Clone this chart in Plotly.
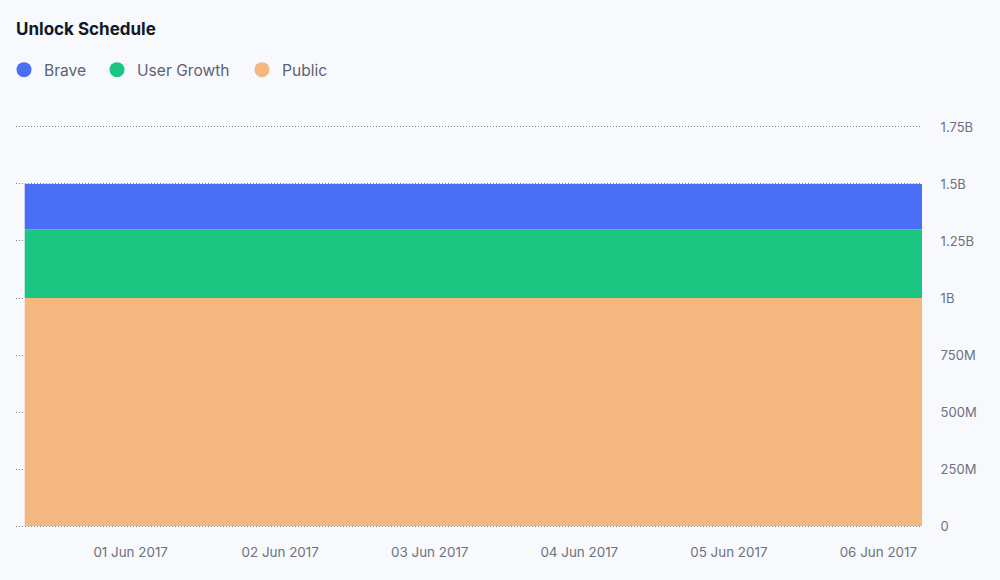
import plotly.graph_objects as go

dates = ["2017-05-31 07:00", "2017-06-01 07:00", "2017-06-02 07:00", "2017-06-03 07:00",
         "2017-06-04 07:00", "2017-06-05 07:00", "2017-06-06 07:00"]
public = [1.0e9] * 7
user_growth = [0.3e9] * 7
brave = [0.2e9] * 7

series_names = ["Public", "User Growth", "Brave"]
series_values = [public, user_growth, brave]
series_colors = ["#f4b77f", "#1ac682", "#4a6ef6"]

y_ticks = [0, 0.25e9, 0.5e9, 0.75e9, 1.0e9, 1.25e9, 1.5e9, 1.75e9]
y_labels = ["0", "250M", "500M", "750M", "1B", "1.25B", "1.5B", "1.75B"]
x_ticks = ["2017-06-01", "2017-06-02", "2017-06-03", "2017-06-04", "2017-06-05", "2017-06-06"]

fig = go.Figure()
for name, vals, col in zip(series_names, series_values, series_colors):
    fig.add_trace(go.Scatter(x=dates, y=vals, name=name, stackgroup="one", mode="lines",
                             line=dict(width=0, color=col), fillcolor=col, showlegend=False))

# legend entries with circular markers, each in its own legend box
legend_ids = {"Brave": "legend", "User Growth": "legend2", "Public": "legend3"}
legend_x = {"Brave": 4, "User Growth": 97, "Public": 242}
for name, col in zip(series_names[::-1], series_colors[::-1]):
    fig.add_trace(go.Scatter(x=[None], y=[None], mode="markers", name=name,
                             legend=legend_ids[name],
                             marker=dict(symbol="circle", size=15, color=col)))

def legend_cfg(x):
    return dict(orientation="h", x=x/1000, xref="container", xanchor="left",
                y=1 - 70/580, yref="container", yanchor="middle",
                font=dict(family="Inter", size=15.6, color="#5b6472"), itemwidth=30,
                bgcolor="rgba(0,0,0,0)", traceorder="normal")

fig.update_layout(
    width=1000, height=580,
    paper_bgcolor="#f8f9fc", plot_bgcolor="#f8f9fc",
    font=dict(family="Inter", color="#6b7280", size=13.4),
    margin=dict(l=16, r=78, t=125, b=52),
    title=dict(text="<b>Unlock Schedule</b>", x=16/1000, xref="container", xanchor="left",
               y=1 - 29/580, yref="container", yanchor="middle",
               font=dict(family="Inter", size=17, color="#111827")),
    legend=legend_cfg(legend_x["Brave"]),
    legend2=legend_cfg(legend_x["User Growth"]),
    legend3=legend_cfg(legend_x["Public"]),
    showlegend=True,
    hovermode=False,
)
fig.update_xaxes(range=["2017-05-31 05:36", "2017-06-06 07:00"], tickvals=x_ticks,
                 tickformat="%d %b %Y", showgrid=False, zeroline=False, showline=False,
                 ticks="outside", ticklen=12, tickcolor="rgba(0,0,0,0)")
fig.update_yaxes(range=[-0.0087e9, 1.7587e9], side="right", tickvals=y_ticks, ticktext=y_labels,
                 showgrid=True, gridcolor="#7d828c", griddash="1px,2px", gridwidth=1,
                 zeroline=False, showline=False, ticks="outside", ticklen=15,
                 tickcolor="rgba(0,0,0,0)", tickfont=dict(size=13))

fig.write_html("out.html", config={"displayModeBar": False},
               post_script="document.body.style.margin='0';document.body.style.background='#f8f9fc';")
